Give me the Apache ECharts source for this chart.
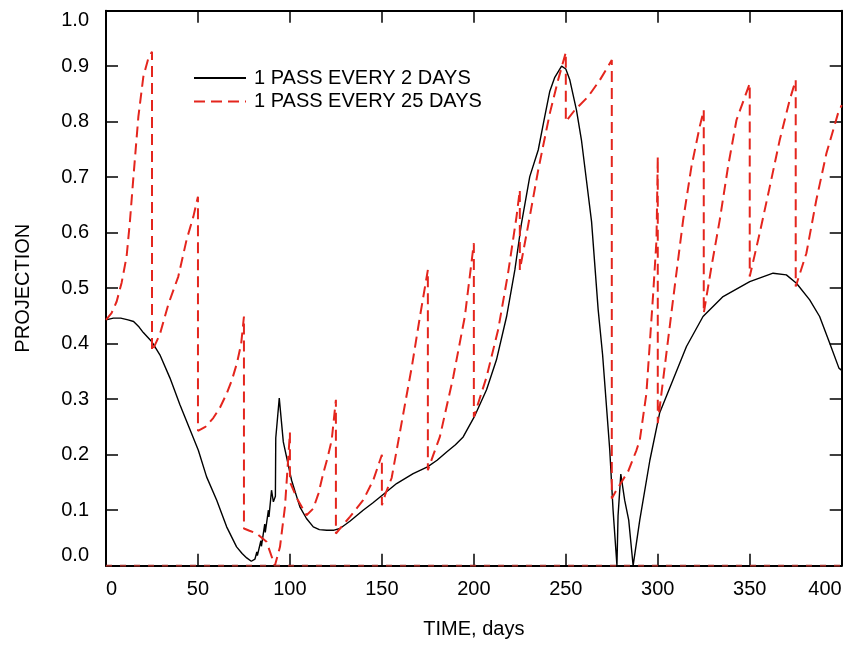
<!DOCTYPE html>
<html>
<head>
<meta charset="utf-8">
<script src="https://cdn.jsdelivr.net/npm/echarts@6/dist/echarts.min.js"></script>
<style>
html,body{margin:0;padding:0;background:#fff;}
#chart{width:847px;height:648px;}
</style>
</head>
<body>
<div id="chart"></div>
<script>
// ---- data ----
const seriesNames = ['1 PASS EVERY 2 DAYS', '1 PASS EVERY 25 DAYS'];
const xTicks = [0, 50, 100, 150, 200, 250, 300, 350, 400];
const yTicks = [0.0, 0.1, 0.2, 0.3, 0.4, 0.5, 0.6, 0.7, 0.8, 0.9, 1.0];

// 1 PASS EVERY 2 DAYS (black, solid)
const blackX = [0, 4, 8, 12, 15, 18, 20.3, 24.8, 29.3, 34.8, 40.2, 45.7, 50.2, 54.7, 60.2, 65.6, 71, 74, 76.5, 79,
  81, 82, 82.3, 84.2, 84.5, 86.3, 86.6, 88.3, 88.6, 90, 91, 92.1, 92.3, 94.2, 96.4, 100.9, 105.4, 109, 112.7, 116,
  120, 124, 127.2, 132.6, 139.8, 145, 150.2, 158, 167, 174.8, 180, 185.2, 190, 194.2, 200.2, 206.9, 212.3, 217.8,
  222.3, 225.9, 230.4, 235, 238, 241.3, 244, 247.7, 250, 252.2, 255.8, 258.5, 261.2, 264, 267.6, 270, 273.9, 275.7,
  277.8, 278.4, 279.9, 282, 284.2, 286.6, 290.2, 295.7, 301, 308.3, 315.6, 324.6, 335.5, 350, 362.7, 369.9, 375.4,
  382.6, 388, 393.5, 398.5, 400];
const blackY = [0.443, 0.446, 0.446, 0.443, 0.44, 0.43, 0.42, 0.404, 0.38, 0.338, 0.29, 0.245, 0.208, 0.16, 0.118, 0.07, 0.034, 0.022, 0.014, 0.008,
  0.012, 0.025, 0.018, 0.045, 0.035, 0.075, 0.06, 0.1, 0.088, 0.136, 0.115, 0.125, 0.23, 0.302, 0.223, 0.154, 0.106, 0.085, 0.07, 0.065,
  0.064, 0.064, 0.067, 0.08, 0.1, 0.113, 0.127, 0.148, 0.166, 0.178, 0.19, 0.205, 0.218, 0.232, 0.268, 0.317, 0.371, 0.449,
  0.533, 0.617, 0.701, 0.749, 0.8, 0.855, 0.88, 0.9, 0.895, 0.875, 0.821, 0.767, 0.695, 0.62, 0.461, 0.38, 0.208, 0.1,
  0.0, 0.09, 0.165, 0.118, 0.082, 0.0, 0.082, 0.19, 0.275, 0.335, 0.395, 0.449, 0.485, 0.512, 0.527, 0.524, 0.509,
  0.479, 0.449, 0.401, 0.356, 0.352];

// 1 PASS EVERY 25 DAYS (red, dashed)
const redX = [0, 3, 5.8, 8.5, 11.2, 13, 14.9, 17.6, 20.3, 23, 25,
  25, 29.3, 33.9, 39.3, 43.8, 47.5, 50,
  50, 54, 58.3, 62, 65.6, 68.5, 71.2, 73.5, 75,
  75, 78, 81.9, 87.3, 91.8, 94.6, 97.3, 100,
  100, 104, 109, 112.7, 115.5, 118.1, 120.5, 122.7, 125,
  125, 128, 132.6, 139.8, 145.3, 150,
  150, 152, 155.3, 160.7, 166.3, 170.7, 175,
  175, 178, 181.5, 188.8, 195.1, 200,
  200, 206.9, 213.2, 218.6, 223.2, 225,
  225, 230.4, 235, 241.3, 245.8, 250,
  250, 254.9, 262.1, 268.5, 275,
  275, 277.5, 283.9, 288.4, 290.2, 293.8, 297.5, 299.3, 300,
  300, 304.7, 309.2, 313.8, 318.3, 322.8, 325,
  325, 329.2, 333.7, 338.2, 342.8, 350,
  350, 355.4, 360.9, 366.3, 371.7, 375,
  375, 380.8, 386.2, 391.7, 398, 400];
const redY = [0.443, 0.455, 0.476, 0.51, 0.557, 0.62, 0.70, 0.809, 0.881, 0.914, 0.926,
  0.386, 0.417, 0.471, 0.521, 0.587, 0.629, 0.665,
  0.243, 0.25, 0.266, 0.285, 0.31, 0.335, 0.365, 0.4, 0.449,
  0.067, 0.063, 0.058, 0.043, 0.0, 0.034, 0.106, 0.24,
  0.151, 0.12, 0.091, 0.103, 0.13, 0.166, 0.195, 0.226, 0.299,
  0.058, 0.07, 0.088, 0.118, 0.154, 0.2,
  0.109, 0.13, 0.158, 0.257, 0.359, 0.449, 0.533,
  0.172, 0.2, 0.232, 0.34, 0.449, 0.581,
  0.268, 0.34, 0.425, 0.527, 0.629, 0.677,
  0.533, 0.629, 0.713, 0.815, 0.875, 0.925,
  0.8, 0.821, 0.845, 0.875, 0.911,
  0.121, 0.136, 0.17, 0.208, 0.226, 0.31, 0.49, 0.587, 0.737,
  0.257, 0.383, 0.503, 0.623, 0.719, 0.791, 0.821,
  0.455, 0.539, 0.623, 0.719, 0.803, 0.869,
  0.521, 0.599, 0.683, 0.767, 0.839, 0.875,
  0.503, 0.563, 0.659, 0.743, 0.815, 0.83];

// dashed zero line along the bottom
const zeroX = [0, 400];
const zeroY = [0, 0];

// ---- chart ----
const FONT = "'Liberation Sans', Arial, sans-serif";
const pairs = (xs, ys) => xs.map((x, i) => [x, ys[i]]);
const chart = echarts.init(document.getElementById('chart'), null, {renderer: 'canvas'});

const axisCommon = {
  axisLine: {show: true, onZero: false, lineStyle: {color: '#000', width: 2}},
  axisTick: {show: true, inside: true, length: 12, lineStyle: {color: '#000', width: 1.5}},
  splitLine: {show: false}
};

chart.setOption({
  animation: false,
  backgroundColor: '#fff',
  grid: {left: 106, right: 5.3, top: 10.7, bottom: 82.3, containLabel: false},
  legend: {
    data: seriesNames,
    orient: 'vertical',
    left: 188, top: 63,
    itemWidth: 52, itemHeight: 10, itemGap: 3.5,
    itemStyle: {opacity: 0},
    textStyle: {fontFamily: FONT, fontSize: 20, color: '#000', lineHeight: 20, padding: [0, 0, 0, 3]}
  },
  xAxis: [
    Object.assign({
      type: 'value', position: 'bottom', min: xTicks[0], max: xTicks[xTicks.length - 1], interval: 50,
      name: 'TIME, days', nameLocation: 'middle', nameGap: 54,
      nameTextStyle: {fontFamily: FONT, fontSize: 20, color: '#000'},
      axisLabel: {fontFamily: FONT, fontSize: 20, color: '#000', margin: 14,
        alignMinLabel: 'left', alignMaxLabel: 'right'}
    }, axisCommon),
    Object.assign({
      type: 'value', position: 'top', min: xTicks[0], max: xTicks[xTicks.length - 1], interval: 50,
      axisLabel: {show: false}
    }, axisCommon)
  ],
  yAxis: [
    Object.assign({
      type: 'value', position: 'left', min: yTicks[0], max: yTicks[yTicks.length - 1], interval: 0.1,
      name: 'PROJECTION', nameLocation: 'middle', nameGap: 73, nameRotate: 90,
      nameTextStyle: {fontFamily: FONT, fontSize: 20, color: '#000'},
      axisLabel: {fontFamily: FONT, fontSize: 20, color: '#000', margin: 17,
        formatter: v => v.toFixed(1),
        verticalAlignMinLabel: 'bottom', verticalAlignMaxLabel: 'top'}
    }, axisCommon),
    Object.assign({
      type: 'value', position: 'right', min: yTicks[0], max: yTicks[yTicks.length - 1], interval: 0.1,
      axisLabel: {show: false}
    }, axisCommon)
  ],
  series: [
    {
      name: seriesNames[0], type: 'line', data: pairs(blackX, blackY),
      symbol: 'none', smooth: false, z: 3,
      lineStyle: {color: '#000', width: 1.4}, itemStyle: {color: '#000'}
    },
    {
      name: seriesNames[1], type: 'line', data: pairs(redX, redY),
      symbol: 'none', smooth: false, z: 4,
      lineStyle: {color: '#e4251d', width: 2, type: [11, 6]}, itemStyle: {color: '#e4251d'}
    },
    {
      name: 'zero', type: 'line', data: pairs(zeroX, zeroY),
      symbol: 'none', z: 5, silent: true,
      lineStyle: {color: '#9a2a24', width: 2, type: [6, 8]}
    }
  ]
});
</script>
</body>
</html>
